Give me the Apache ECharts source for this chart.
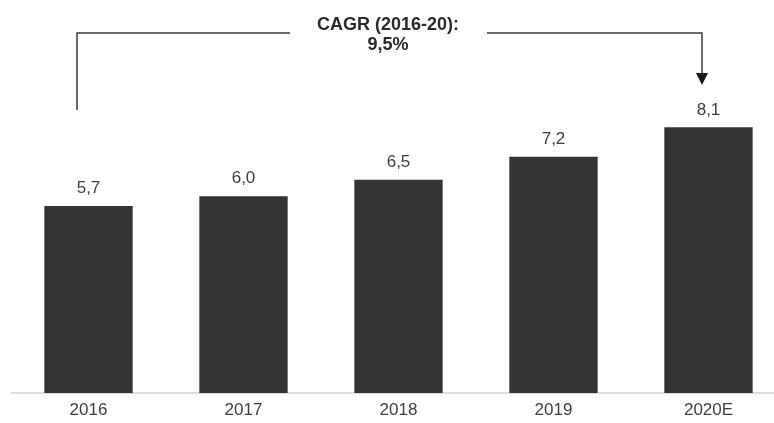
<!DOCTYPE html>
<html>
<head>
<meta charset="utf-8">
<script src="https://cdn.jsdelivr.net/npm/echarts@6/dist/echarts.min.js"></script>
<style>
  html, body { margin: 0; padding: 0; background: #fff; }
  #chart { width: 774px; height: 423px; }
</style>
</head>
<body>
<div id="chart"></div>
<script>
// 数据
const years = ['2016', '2017', '2018', '2019', '2020E'];
const values = [5.7, 6.0, 6.5, 7.2, 8.1];
const cagrTitle = 'CAGR (2016-20):';
const cagrValue = '9,5%';

function fmt(v) {
  return v.toFixed(1).replace('.', ',');
}

const chart = echarts.init(document.getElementById('chart'), null, {
  width: 774,
  height: 423
});

chart.setOption({
  animation: false,
  grid: {
    left: 11,
    top: 65,
    width: 775,
    height: 328,
    outerBoundsMode: 'none',
    containLabel: false
  },
  xAxis: {
    type: 'category',
    data: years,
    axisTick: { show: false },
    axisLine: { lineStyle: { color: '#d4d4d4', width: 1.5 } },
    axisLabel: {
      margin: 9,
      color: '#404040',
      fontSize: 17,
      fontFamily: 'Liberation Sans, Arial, sans-serif'
    }
  },
  yAxis: {
    type: 'value',
    min: 0,
    max: 10,
    show: false,
    splitLine: { show: false }
  },
  series: [
    {
      type: 'bar',
      data: values,
      barWidth: '57%',
      itemStyle: { color: '#333333' },
      label: {
        show: true,
        position: 'top',
        distance: 9,
        color: '#404040',
        fontSize: 17,
        fontFamily: 'Liberation Sans, Arial, sans-serif',
        formatter: p => fmt(p.value)
      }
    }
  ]
});

// CAGR 注释
const xFirst = chart.convertToPixel({ xAxisIndex: 0 }, years[0]) - 11.5;
const xLast = chart.convertToPixel({ xAxisIndex: 0 }, years[years.length - 1]) - 6.5;
const lineY = 33;
const lineStyle = { stroke: '#3a3a3a', lineWidth: 1.5 };

chart.setOption({
  graphic: [
    {
      type: 'polyline',
      shape: { points: [[xFirst, 110], [xFirst, lineY], [290, lineY]] },
      style: Object.assign({ fill: null }, lineStyle)
    },
    {
      type: 'polyline',
      shape: { points: [[487, lineY], [xLast, lineY], [xLast, 74]] },
      style: Object.assign({ fill: null }, lineStyle)
    },
    {
      type: 'polygon',
      shape: { points: [[xLast - 6, 73], [xLast + 6, 73], [xLast, 85]] },
      style: { fill: '#1a1a1a' }
    },
    {
      type: 'text',
      x: 388,
      y: 25,
      style: {
        text: cagrTitle,
        align: 'center',
        verticalAlign: 'middle',
        fill: '#2a2a2a',
        font: 'bold 18px "Liberation Sans", Arial, sans-serif'
      }
    },
    {
      type: 'text',
      x: 388,
      y: 45,
      style: {
        text: cagrValue,
        align: 'center',
        verticalAlign: 'middle',
        fill: '#2a2a2a',
        font: 'bold 18px "Liberation Sans", Arial, sans-serif'
      }
    }
  ]
});
</script>
</body>
</html>
